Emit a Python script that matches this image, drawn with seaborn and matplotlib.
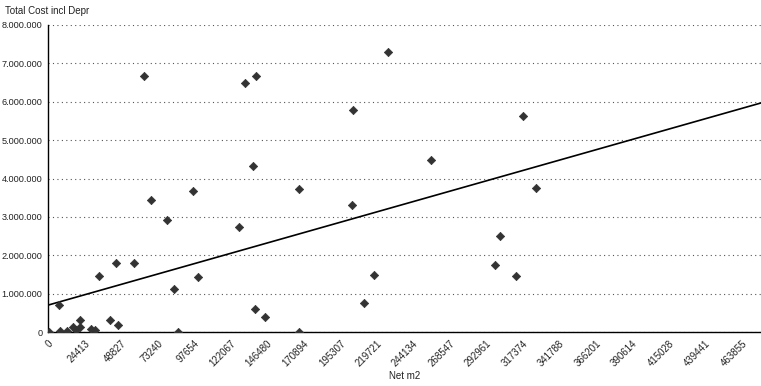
import seaborn as sns
import matplotlib.pyplot as plt
import matplotlib.ticker as mticker
import numpy as np
import pandas as pd

sns.set_style("white")
plt.rcParams['font.family'] = ['Liberation Sans', 'DejaVu Sans']

# values
net_m2 = [700, 7600, 8000, 12500, 16500, 18700, 21400, 21400, 28500, 31400,
          34100, 41500, 45500, 46800, 57500, 64200, 68900, 79800, 84300, 87100,
          96700, 100100, 127500, 131700, 136900, 138200, 138900, 145300, 167600, 168000,
          203300, 203700, 211500, 218200, 227100, 255900, 298900, 302000, 312700, 317400,
          326300]
total_cost = [0, 700000, 20000, 20000, 130000, 60000, 300000, 130000, 90000, 40000,
              1460000, 320000, 1810000, 170000, 1810000, 6680000, 3440000, 2910000, 1110000, 0,
              3670000, 1440000, 2730000, 6500000, 4330000, 600000, 6670000, 390000, 0, 3720000,
              3300000, 5780000, 760000, 1480000, 7290000, 4470000, 1740000, 2490000, 1460000, 5640000,
              3740000]
x_ticks = [0, 24413, 48827, 73240, 97654, 122067, 146480, 170894, 195307, 219721,
           244134, 268547, 292961, 317374, 341788, 366201, 390614, 415028, 439441, 463855]
y_ticks = [0, 1000000, 2000000, 3000000, 4000000, 5000000, 6000000, 7000000, 8000000]
trend_intercept = 700000
trend_slope = 11.05

df = pd.DataFrame({"Net m2": net_m2, "Total Cost incl Depr": total_cost})

fig = plt.figure(figsize=(7.61, 3.86), dpi=100)
ax = fig.add_axes([48/761, 54/386, 1 - 48/761, 307/386])

xmax = 476800
sns.scatterplot(data=df, x="Net m2", y="Total Cost incl Depr", marker="D", s=18,
                color="#333333", edgecolor="#333333", linewidth=0.5, ax=ax, zorder=3)
xs = np.array([0, xmax])
ax.plot(xs, trend_intercept + trend_slope * xs, color="black", lw=1.2, zorder=2)

ax.set_xlim(0, xmax)
ax.set_ylim(0, 8000000)
ax.set_xticks(x_ticks)
ax.set_xticklabels([str(t) for t in x_ticks], rotation=45, ha="right",
                   rotation_mode="anchor", fontsize=7, color="#222222")
ax.set_yticks(y_ticks)
ax.yaxis.set_major_formatter(mticker.FuncFormatter(lambda v, p: f"{v:,.0f}".replace(",", ".")))
ax.yaxis.set_minor_locator(mticker.MultipleLocator(500000))
ax.tick_params(axis="y", labelsize=6.6, labelcolor="#222222", direction="inout",
               length=5, width=0.8, pad=1.5)
ax.tick_params(axis="y", which="minor", direction="inout", length=5, width=0.8)
ax.tick_params(axis="x", direction="inout", length=5, width=0.8, pad=2)

ax.grid(axis="y", which="major", linestyle=(0, (1, 3)), color="#555555", linewidth=0.8)
ax.grid(axis="x", visible=False)
sns.despine(ax=ax, top=True, right=True)
for side in ["left", "bottom"]:
    ax.spines[side].set_color("black")
    ax.spines[side].set_linewidth(1.0)

ax.set_ylabel("")
ax.set_xlabel("Net m2", fontsize=7, color="#222222", labelpad=2)
fig.text(5/761, 1 - 11/386, "Total Cost incl Depr", fontsize=7, color="#222222", va="center")

fig.savefig("out.png", dpi=100)
